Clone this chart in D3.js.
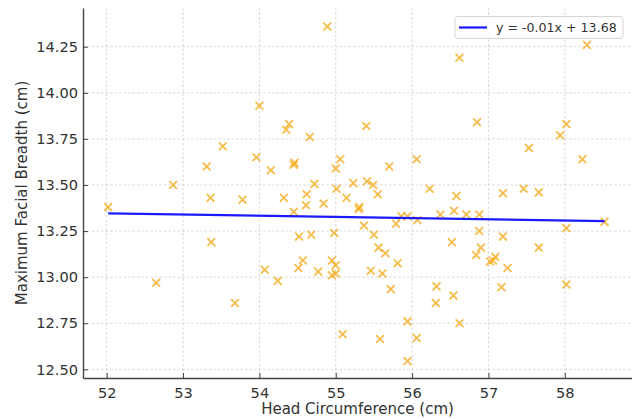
<!DOCTYPE html>
<html>
<head>
<meta charset="utf-8">
<script src="https://cdn.jsdelivr.net/npm/d3@7"></script>
<style>
  html, body { margin: 0; padding: 0; background: #fff; }
  svg { display: block; font-family: "DejaVu Sans", sans-serif; }
</style>
</head>
<body>
<svg id="chart" width="632" height="419"></svg>
<script>
// ---- data ----
const headCircumference = [
  52.02, 52.65, 52.87, 53.31, 53.36, 53.37, 53.52, 53.68, 53.78, 53.96,
  54.00, 54.07, 54.15, 54.24, 54.32, 54.35, 54.39, 54.45, 54.46, 54.45,
  54.51, 54.52, 54.57, 54.61, 54.62, 54.66, 54.68, 54.72, 54.77, 54.84,
  54.89, 54.95, 54.95, 55.00, 54.98, 55.00, 55.00, 55.01, 55.06, 55.09,
  55.14, 55.23, 55.30, 55.31, 55.37, 55.40, 55.41, 55.46, 55.49, 55.50,
  55.55, 55.56, 55.58, 55.61, 55.65, 55.70, 55.72, 55.79, 55.81, 55.86,
  55.94, 55.94, 55.94, 56.06, 56.06, 56.07, 56.23, 56.31, 56.32, 56.37,
  56.52, 56.54, 56.55, 56.58, 56.62, 56.62, 56.71, 56.84, 56.85, 56.88,
  56.88, 56.90, 57.02, 57.06, 57.09, 57.17, 57.19, 57.19, 57.25, 57.46,
  57.53, 57.66, 57.66, 57.94, 58.02, 58.02, 58.02, 58.23, 58.29, 58.52
];
const facialBreadth = [
  13.38, 12.97, 13.50, 13.60, 13.43, 13.19, 13.71, 12.86, 13.42, 13.65,
  13.93, 13.04, 13.58, 12.98, 13.43, 13.80, 13.83, 13.61, 13.62, 13.355,
  13.05, 13.22, 13.09, 13.39, 13.45, 13.76, 13.23, 13.505, 13.03, 13.40,
  14.36, 13.09, 13.01, 13.02, 13.24, 13.065, 13.59, 13.48, 13.64, 12.69,
  13.43, 13.51, 13.37, 13.38, 13.28, 13.82, 13.52, 13.035, 13.50, 13.23,
  13.45, 13.16, 12.665, 13.02, 13.13, 13.60, 12.935, 13.29, 13.075, 13.33,
  13.33, 12.76, 12.545, 13.64, 12.67, 13.31, 13.48, 12.86, 12.95, 13.34,
  13.19, 12.90, 13.36, 13.44, 14.19, 12.75, 13.34, 13.12, 13.84, 13.34,
  13.25, 13.16, 13.085, 13.09, 13.11, 12.945, 13.455, 13.22, 13.05, 13.48,
  13.70, 13.46, 13.16, 13.77, 13.83, 13.265, 12.96, 13.64, 14.26, 13.30
];
const xTicks = [52, 53, 54, 55, 56, 57, 58];
const yTicks = [12.50, 12.75, 13.00, 13.25, 13.50, 13.75, 14.00, 14.25];
const fitSlope = -0.0065;
const fitIntercept = 13.684;
const legendLabel = "y = -0.01x + 13.68";
const xLabel = "Head Circumference (cm)";
const yLabel = "Maximum Facial Breadth (cm)";

// ---- layout ----
const svg = d3.select("#chart");
const pL = 83, pR = 632, pT = 8, pB = 378;
const x = d3.scaleLinear().domain([51.69, 58.88]).range([pL, pR]);
const y = d3.scaleLinear().domain([12.453, 14.46]).range([pB, pT]);
const textColor = "#333";

// grid
const grid = svg.append("g");
grid.selectAll(".gx").data(xTicks).enter().append("line")
  .attr("x1", d => x(d)).attr("x2", d => x(d))
  .attr("y1", pT).attr("y2", pB)
  .attr("stroke", "#cfcfcf").attr("stroke-width", 0.8).attr("stroke-dasharray", "2.5,2");
grid.selectAll(".gy").data(yTicks).enter().append("line")
  .attr("x1", pL).attr("x2", pR)
  .attr("y1", d => y(d)).attr("y2", d => y(d))
  .attr("stroke", "#cfcfcf").attr("stroke-width", 0.8).attr("stroke-dasharray", "2.5,2");

// points (x markers)
const pts = d3.range(headCircumference.length).map(i => [headCircumference[i], facialBreadth[i]]);
const s = 3.9;
svg.append("g").selectAll("path").data(pts).enter().append("path")
  .attr("d", d => {
    const cx = x(d[0]), cy = y(d[1]);
    return `M${cx - s},${cy - s}L${cx + s},${cy + s}M${cx - s},${cy + s}L${cx + s},${cy - s}`;
  })
  .attr("stroke", "#f5ab1a").attr("stroke-opacity", 0.78).attr("stroke-width", 1.8).attr("fill", "none");

// regression line
const xMin = d3.min(headCircumference), xMax = d3.max(headCircumference);
svg.append("line")
  .attr("x1", x(xMin)).attr("y1", y(fitSlope * xMin + fitIntercept))
  .attr("x2", x(xMax)).attr("y2", y(fitSlope * xMax + fitIntercept))
  .attr("stroke", "#1a1aff").attr("stroke-width", 2.2);

// axes
const xAxis = d3.axisBottom(x).tickValues(xTicks).tickFormat(d3.format("d")).tickSizeInner(-5).tickSizeOuter(0).tickPadding(10);
const yAxis = d3.axisLeft(y).tickValues(yTicks).tickFormat(d3.format(".2f")).tickSizeInner(-5).tickSizeOuter(0).tickPadding(5);

const gx = svg.append("g").attr("transform", `translate(0,${pB})`).call(xAxis);
const gy = svg.append("g").attr("transform", `translate(${pL},0)`).call(yAxis);
[gx, gy].forEach(g => {
  g.select(".domain").attr("stroke", "#444").attr("stroke-width", 1.4);
  g.selectAll(".tick line").attr("stroke", "#444").attr("stroke-width", 1);
  g.selectAll(".tick text").attr("fill", textColor).attr("font-size", 14.6)
    .attr("font-family", "DejaVu Sans");
});

// axis labels
svg.append("text").attr("x", (pL + pR) / 2).attr("y", 414)
  .attr("text-anchor", "middle").attr("fill", textColor).attr("font-size", 15)
  .text(xLabel);
svg.append("text").attr("transform", `translate(27,${(pT + pB) / 2}) rotate(-90)`)
  .attr("text-anchor", "middle").attr("fill", textColor).attr("font-size", 15)
  .text(yLabel);

// legend
const lg = svg.append("g");
lg.append("rect").attr("x", 455).attr("y", 16.5).attr("width", 168).attr("height", 22)
  .attr("rx", 3).attr("fill", "#fff").attr("fill-opacity", 0.85)
  .attr("stroke", "#d6d6d6").attr("stroke-width", 1);
lg.append("line").attr("x1", 459).attr("x2", 487).attr("y1", 27.5).attr("y2", 27.5)
  .attr("stroke", "#1a1aff").attr("stroke-width", 2.2);
lg.append("text").attr("x", 496).attr("y", 32).attr("fill", textColor).attr("font-size", 12.6)
  .text(legendLabel);
</script>
</body>
</html>
